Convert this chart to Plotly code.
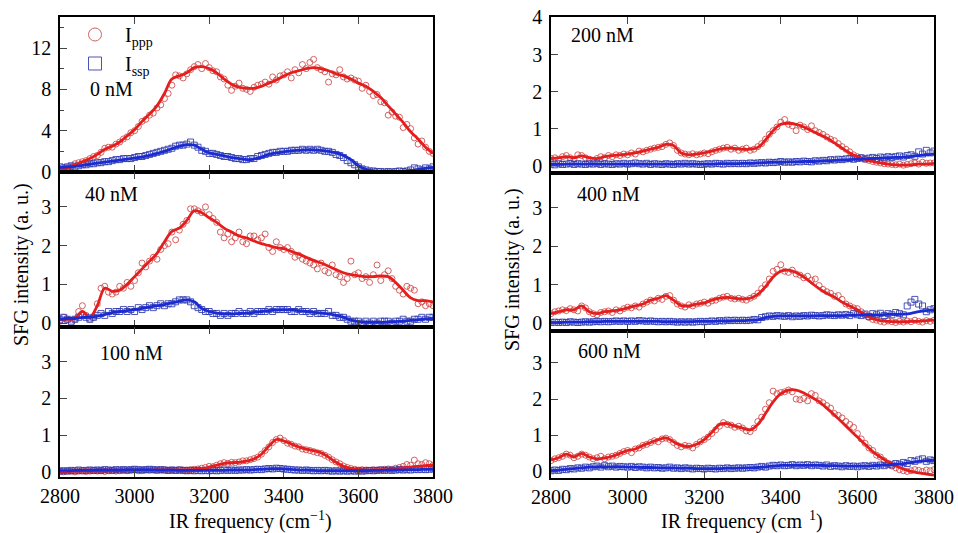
#### Load Libraries ####
import plotly.graph_objects as go

#### Data ####
# measured points every 10 cm-1, fitted curves every 20 cm-1
freq_data = list(range(2800, 3801, 10))
freq_fit = list(range(2800, 3801, 20))

# 0 nM
ppp_0 = [0.1, 0.3, 0.4, 0.5, 0.8, 0.9, 1.0, 1.1, 1.3, 1.5,
         1.6, 1.9, 2.3, 2.4, 2.4, 2.7, 2.9, 3.2, 3.4, 3.8,
         4.0, 4.4, 4.9, 5.1, 5.5, 5.7, 6.2, 6.5, 7.1, 7.6,
         8.4, 9.4, 9.3, 9.1, 9.5, 9.9, 10.2, 10.4, 10.0, 10.5,
         10.1, 9.8, 9.7, 9.2, 9.0, 8.4, 7.9, 8.3, 8.6, 8.1,
         8.0, 7.8, 8.2, 8.4, 8.5, 8.7, 8.5, 9.2, 8.9, 9.3,
         9.4, 9.7, 9.1, 9.9, 9.6, 10.4, 10.0, 10.6, 10.9, 10.1,
         9.9, 9.7, 8.7, 9.5, 9.4, 9.9, 9.2, 9.0, 9.1, 8.9,
         8.8, 8.1, 8.4, 7.8, 7.4, 7.5, 6.8, 6.7, 5.5, 5.8,
         5.4, 5.3, 4.3, 4.6, 4.2, 3.3, 2.7, 3.0, 2.4, 2.0,
         1.8]
ssp_0 = [0.5, 0.4, 0.5, 0.6, 0.5, 0.6, 0.7, 0.7, 0.8, 0.8,
         0.9, 0.9, 1.0, 1.0, 1.1, 1.2, 1.2, 1.3, 1.3, 1.3,
         1.4, 1.5, 1.5, 1.6, 1.7, 1.8, 1.9, 2.0, 2.1, 2.2,
         2.3, 2.5, 2.6, 2.6, 2.7, 2.9, 2.6, 2.4, 2.1, 2.0,
         1.8, 1.8, 1.7, 1.6, 1.5, 1.5, 1.4, 1.3, 1.3, 1.2,
         1.2, 1.3, 1.3, 1.5, 1.6, 1.7, 1.8, 1.9, 1.9, 2.0,
         2.0, 2.0, 2.1, 2.1, 2.1, 2.2, 2.1, 2.2, 2.1, 2.2,
         2.1, 2.0, 2.0, 1.9, 1.7, 1.6, 1.4, 1.1, 0.9, 0.7,
         0.5, 0.3, 0.2, 0.1, 0.1, 0.05, 0.05, 0.0, 0.05, 0.0,
         0.05, 0.1, 0.05, 0.1, 0.2, 0.4, 0.3, 0.2, 0.4, 0.3,
         0.5]
ppp_fit_0 = [0.2, 0.4, 0.7, 1.0, 1.3, 1.7, 2.2, 2.5, 2.9, 3.5,
             4.1, 4.9, 5.6, 6.4, 7.6, 9.0, 9.3, 9.6, 10.1, 10.2,
             10.0, 9.6, 9.0, 8.5, 8.2, 8.1, 8.1, 8.3, 8.6, 8.9,
             9.3, 9.6, 9.8, 10.0, 10.1, 10.0, 9.8, 9.5, 9.3, 9.0,
             8.6, 8.3, 7.8, 7.2, 6.4, 5.6, 4.8, 3.9, 3.2, 2.4,
             1.8]
ssp_fit_0 = [0.45, 0.5, 0.55, 0.65, 0.75, 0.85, 0.95, 1.05, 1.15, 1.25,
             1.35, 1.45, 1.6, 1.8, 2.0, 2.25, 2.5, 2.65, 2.6, 2.2,
             1.85, 1.7, 1.55, 1.4, 1.3, 1.2, 1.25, 1.45, 1.7, 1.85,
             1.95, 2.05, 2.1, 2.15, 2.15, 2.1, 2.0, 1.85, 1.6, 1.2,
             0.6, 0.25, 0.1, 0.05, 0.05, 0.05, 0.08, 0.15, 0.25, 0.35,
             0.45]

# 40 nM
ppp_40 = [0.05, 0.15, 0.1, 0.0, 0.1, 0.3, 0.45, 0.2, 0.1, 0.15,
          0.5, 0.9, 0.95, 0.8, 0.75, 0.8, 0.95, 0.9, 1.05, 0.95,
          1.1, 1.3, 1.55, 1.45, 1.6, 1.7, 1.65, 1.9, 2.0, 2.05,
          2.35, 2.15, 2.4, 2.55, 2.65, 2.95, 2.95, 2.9, 2.85, 3.0,
          2.8, 2.7, 2.6, 2.35, 2.2, 2.3, 2.1, 2.2, 2.35, 2.1,
          2.05, 2.25, 2.25, 2.15, 2.2, 2.3, 1.95, 1.85, 2.1, 1.95,
          1.9, 1.95, 1.85, 1.7, 1.75, 1.65, 1.6, 1.55, 1.5, 1.4,
          1.55, 1.35, 1.3, 1.5, 1.25, 1.2, 1.05, 1.15, 1.6, 1.25,
          1.3, 1.15, 1.2, 1.05, 1.25, 1.5, 1.1, 1.25, 1.35, 1.15,
          0.95, 0.85, 0.75, 0.95, 0.9, 0.85, 0.5, 0.55, 0.45, 0.5,
          0.45]
ssp_40 = [0.1, 0.15, 0.1, 0.05, 0.1, 0.15, 0.2, 0.15, 0.1, 0.15,
          0.2, 0.25, 0.2, 0.3, 0.25, 0.3, 0.3, 0.35, 0.3, 0.35,
          0.3, 0.4, 0.35, 0.4, 0.45, 0.4, 0.45, 0.5, 0.45, 0.5,
          0.5, 0.55, 0.6, 0.6, 0.6, 0.55, 0.45, 0.4, 0.35, 0.3,
          0.3, 0.25, 0.25, 0.2, 0.25, 0.2, 0.25, 0.25, 0.3, 0.25,
          0.25, 0.3, 0.25, 0.3, 0.3, 0.3, 0.35, 0.3, 0.35, 0.35,
          0.35, 0.35, 0.3, 0.3, 0.35, 0.3, 0.3, 0.25, 0.3, 0.25,
          0.25, 0.25, 0.3, 0.2, 0.2, 0.15, 0.15, 0.1, 0.05, 0.05,
          0.05, 0.0, 0.05, 0.0, 0.05, 0.0, 0.05, 0.05, 0.05, 0.0,
          0.05, 0.05, 0.1, 0.05, 0.05, 0.1, 0.1, 0.15, 0.1, 0.15,
          0.15]
ppp_fit_40 = [0.1, 0.1, 0.12, 0.3, 0.15, 0.45, 0.9, 0.82, 0.85, 1.0,
              1.2, 1.4, 1.6, 1.8, 2.1, 2.37, 2.45, 2.65, 2.9, 2.85,
              2.72, 2.6, 2.45, 2.35, 2.25, 2.2, 2.12, 2.05, 2.0, 1.95,
              1.92, 1.85, 1.78, 1.7, 1.62, 1.55, 1.47, 1.38, 1.3, 1.25,
              1.22, 1.2, 1.2, 1.22, 1.2, 1.05, 0.85, 0.65, 0.58, 0.58,
              0.55]
ssp_fit_40 = [0.1, 0.12, 0.12, 0.15, 0.15, 0.18, 0.22, 0.27, 0.3, 0.32,
              0.35, 0.38, 0.42, 0.45, 0.48, 0.52, 0.57, 0.6, 0.55, 0.38,
              0.3, 0.26, 0.24, 0.24, 0.25, 0.26, 0.28, 0.3, 0.32, 0.34,
              0.35, 0.34, 0.32, 0.3, 0.28, 0.26, 0.24, 0.2, 0.15, 0.08,
              0.04, 0.02, 0.02, 0.02, 0.03, 0.04, 0.05, 0.07, 0.09, 0.11,
              0.12]

# 100 nM
ppp_100 = [0.02, 0.0, 0.03, 0.02, 0.0, 0.02, 0.03, 0.01, 0.02, 0.03,
           0.02, 0.03, 0.01, 0.03, 0.04, 0.02, 0.03, 0.04, 0.03, 0.04,
           0.05, 0.03, 0.04, 0.05, 0.04, 0.05, 0.04, 0.05, 0.06, 0.04,
           0.05, 0.04, 0.06, 0.05, 0.05, 0.06, 0.07, 0.08, 0.1, 0.12,
           0.15, 0.14, 0.18, 0.22, 0.25, 0.23, 0.26, 0.25, 0.27, 0.3,
           0.3, 0.33, 0.36, 0.4, 0.48, 0.58, 0.68, 0.8, 0.88, 0.92,
           0.85, 0.78, 0.75, 0.7, 0.68, 0.62, 0.6, 0.58, 0.55, 0.52,
           0.5, 0.45, 0.4, 0.33, 0.27, 0.22, 0.16, 0.12, 0.09, 0.07,
           0.05, 0.06, 0.05, 0.04, 0.06, 0.05, 0.06, 0.07, 0.08, 0.07,
           0.1, 0.12, 0.15, 0.2, 0.18, 0.32, 0.22, 0.2, 0.25, 0.22,
           0.18]
ssp_100 = [0.02, 0.03, 0.02, 0.04, 0.03, 0.05, 0.03, 0.04, 0.05, 0.04,
           0.05, 0.04, 0.06, 0.05, 0.04, 0.06, 0.05, 0.06, 0.05, 0.06,
           0.07, 0.06, 0.05, 0.06, 0.07, 0.06, 0.05, 0.06, 0.05, 0.04,
           0.05, 0.04, 0.05, 0.04, 0.03, 0.04, 0.03, 0.04, 0.03, 0.04,
           0.03, 0.04, 0.03, 0.04, 0.05, 0.04, 0.05, 0.04, 0.05, 0.05,
           0.06, 0.05, 0.06, 0.07, 0.06, 0.08, 0.09, 0.08, 0.1, 0.09,
           0.08, 0.07, 0.06, 0.05, 0.05, 0.04, 0.05, 0.04, 0.03, 0.04,
           0.03, 0.04, 0.03, 0.02, 0.03, 0.02, 0.03, 0.02, 0.03, 0.02,
           0.03, 0.02, 0.03, 0.04, 0.03, 0.04, 0.05, 0.04, 0.05, 0.04,
           0.05, 0.06, 0.05, 0.06, 0.05, 0.07, 0.06, 0.07, 0.06, 0.07,
           0.08]
ppp_fit_100 = [0.01, 0.01, 0.02, 0.02, 0.02, 0.02, 0.02, 0.03, 0.03, 0.03,
               0.04, 0.04, 0.04, 0.05, 0.05, 0.05, 0.05, 0.05, 0.06, 0.08,
               0.13, 0.18, 0.23, 0.25, 0.26, 0.29, 0.35, 0.48, 0.7, 0.88,
               0.84, 0.76, 0.68, 0.62, 0.58, 0.52, 0.4, 0.26, 0.15, 0.09,
               0.06, 0.05, 0.05, 0.06, 0.07, 0.09, 0.11, 0.13, 0.15, 0.17,
               0.18]
ssp_fit_100 = [0.03, 0.03, 0.04, 0.04, 0.04, 0.05, 0.05, 0.05, 0.05, 0.06,
               0.06, 0.06, 0.06, 0.05, 0.05, 0.05, 0.04, 0.04, 0.04, 0.04,
               0.04, 0.04, 0.04, 0.05, 0.05, 0.05, 0.06, 0.07, 0.08, 0.09,
               0.08, 0.07, 0.05, 0.05, 0.04, 0.03, 0.03, 0.03, 0.03, 0.03,
               0.03, 0.03, 0.04, 0.04, 0.05, 0.05, 0.05, 0.06, 0.06, 0.07,
               0.07]

# 200 nM
ppp_200 = [0.2, 0.22, 0.18, 0.25, 0.28, 0.22, 0.18, 0.3, 0.28, 0.22,
           0.18, 0.15, 0.2, 0.25, 0.22, 0.28, 0.25, 0.3, 0.28, 0.32,
           0.3, 0.35, 0.32, 0.4, 0.38, 0.42, 0.45, 0.48, 0.5, 0.52,
           0.58, 0.62, 0.55, 0.42, 0.35, 0.32, 0.3, 0.33, 0.3, 0.32,
           0.35, 0.33, 0.38, 0.42, 0.45, 0.48, 0.5, 0.45, 0.48, 0.42,
           0.45, 0.48, 0.42, 0.45, 0.52, 0.6, 0.72, 0.85, 0.95, 1.05,
           1.18, 1.25, 1.12, 1.08, 0.95, 1.1, 1.05, 0.98, 1.08, 0.95,
           0.9, 0.85, 0.78, 0.72, 0.68, 0.6, 0.52, 0.45, 0.38, 0.3,
           0.25, 0.22, 0.18, 0.15, 0.12, 0.1, 0.08, 0.06, 0.05, 0.04,
           0.03, 0.05, 0.02, 0.04, 0.06, 0.08, 0.05, 0.1, 0.07, 0.08,
           0.08]
ssp_200 = [0.05, 0.03, 0.06, 0.04, 0.05, 0.07, 0.04, 0.06, 0.05, 0.04,
           0.06, 0.05, 0.07, 0.04, 0.06, 0.05, 0.04, 0.06, 0.05, 0.07,
           0.05, 0.06, 0.08, 0.06, 0.05, 0.07, 0.04, 0.06, 0.05, 0.04,
           0.06, 0.05, 0.04, 0.06, 0.05, 0.07, 0.05, 0.06, 0.05, 0.04,
           0.05, 0.06, 0.05, 0.07, 0.06, 0.05, 0.07, 0.06, 0.07, 0.06,
           0.07, 0.06, 0.08, 0.07, 0.08, 0.09, 0.08, 0.1, 0.09, 0.1,
           0.12, 0.1, 0.11, 0.1, 0.12, 0.11, 0.13, 0.12, 0.11, 0.14,
           0.13, 0.15, 0.14, 0.17, 0.16, 0.18, 0.17, 0.19, 0.2, 0.18,
           0.2, 0.22, 0.19, 0.21, 0.23, 0.2, 0.24, 0.22, 0.25, 0.23,
           0.25, 0.27, 0.24, 0.28, 0.3, 0.26, 0.38, 0.32, 0.42, 0.35,
           0.4]
ppp_fit_200 = [0.2, 0.22, 0.25, 0.22, 0.27, 0.22, 0.2, 0.25, 0.28, 0.3,
               0.32, 0.35, 0.4, 0.45, 0.5, 0.58, 0.55, 0.35, 0.3, 0.32,
               0.35, 0.4, 0.45, 0.48, 0.47, 0.45, 0.45, 0.5, 0.7, 0.95,
               1.12, 1.15, 1.12, 1.05, 0.95, 0.85, 0.75, 0.62, 0.48, 0.35,
               0.25, 0.18, 0.12, 0.08, 0.05, 0.03, 0.02, 0.03, 0.05, 0.05,
               0.07]
ssp_fit_200 = [0.04, 0.04, 0.05, 0.05, 0.05, 0.05, 0.05, 0.05, 0.05, 0.05,
               0.05, 0.05, 0.05, 0.05, 0.05, 0.05, 0.05, 0.05, 0.05, 0.05,
               0.05, 0.05, 0.06, 0.06, 0.06, 0.07, 0.07, 0.08, 0.09, 0.1,
               0.1, 0.11, 0.11, 0.12, 0.12, 0.13, 0.14, 0.15, 0.16, 0.17,
               0.18, 0.19, 0.2, 0.21, 0.22, 0.23, 0.24, 0.26, 0.28, 0.3,
               0.32]

# 400 nM
ppp_400 = [0.25, 0.3, 0.32, 0.35, 0.33, 0.38, 0.35, 0.32, 0.45, 0.4,
           0.3, 0.25, 0.22, 0.28, 0.3, 0.32, 0.28, 0.35, 0.32, 0.38,
           0.42, 0.4, 0.45, 0.42, 0.5, 0.55, 0.6, 0.58, 0.65, 0.62,
           0.7, 0.72, 0.6, 0.5, 0.45, 0.42, 0.48, 0.45, 0.5, 0.52,
           0.55, 0.52, 0.58, 0.6, 0.65, 0.68, 0.7, 0.65, 0.63, 0.65,
           0.62, 0.6, 0.65, 0.7, 0.78, 0.9, 1.0, 1.15, 1.35, 1.4,
           1.52, 1.35, 1.32, 1.38, 1.28, 1.25, 1.18, 1.22, 1.12, 1.15,
           0.98, 0.88, 0.82, 0.78, 0.7, 0.72, 0.62, 0.5, 0.45, 0.4,
           0.38, 0.3, 0.22, 0.15, 0.1, 0.08, 0.05, 0.03, 0.06, 0.04,
           0.02, 0.05, 0.03, 0.06, 0.04, 0.08, 0.05, 0.03, 0.07, 0.05,
           0.08]
ssp_400 = [0.02, 0.03, 0.02, 0.03, 0.02, 0.04, 0.03, 0.02, 0.03, 0.04,
           0.03, 0.04, 0.05, 0.04, 0.05, 0.04, 0.05, 0.06, 0.05, 0.06,
           0.05, 0.06, 0.05, 0.07, 0.06, 0.05, 0.06, 0.05, 0.04, 0.05,
           0.04, 0.05, 0.04, 0.03, 0.04, 0.03, 0.04, 0.03, 0.04, 0.05,
           0.04, 0.05, 0.06, 0.05, 0.07, 0.06, 0.08, 0.07, 0.08, 0.07,
           0.08, 0.07, 0.08, 0.1, 0.09, 0.15, 0.17, 0.19, 0.18, 0.2,
           0.19, 0.18, 0.2, 0.17, 0.19, 0.18, 0.2, 0.19, 0.21, 0.2,
           0.19, 0.2, 0.22, 0.21, 0.2, 0.22, 0.21, 0.23, 0.2, 0.25,
           0.22, 0.2, 0.24, 0.18, 0.25, 0.22, 0.26, 0.2, 0.25, 0.22,
           0.28, 0.25, 0.22, 0.45, 0.55, 0.62, 0.5, 0.45, 0.3, 0.35,
           0.38]
ppp_fit_400 = [0.25, 0.3, 0.35, 0.35, 0.45, 0.3, 0.25, 0.3, 0.32, 0.35,
               0.4, 0.45, 0.5, 0.6, 0.65, 0.72, 0.6, 0.46, 0.45, 0.5,
               0.53, 0.6, 0.65, 0.67, 0.65, 0.63, 0.65, 0.75, 0.95, 1.2,
               1.35, 1.38, 1.32, 1.2, 1.05, 0.9, 0.78, 0.68, 0.55, 0.45,
               0.35, 0.22, 0.12, 0.07, 0.05, 0.04, 0.04, 0.05, 0.05, 0.07,
               0.08]
ssp_fit_400 = [0.02, 0.02, 0.03, 0.03, 0.03, 0.04, 0.04, 0.05, 0.05, 0.05,
               0.05, 0.05, 0.05, 0.05, 0.05, 0.04, 0.04, 0.04, 0.04, 0.05,
               0.05, 0.05, 0.06, 0.06, 0.07, 0.07, 0.08, 0.09, 0.15, 0.18,
               0.19, 0.19, 0.19, 0.19, 0.19, 0.2, 0.2, 0.2, 0.2, 0.21,
               0.21, 0.22, 0.22, 0.22, 0.23, 0.23, 0.24, 0.26, 0.3, 0.33,
               0.35]

# 600 nM
ppp_600 = [0.3, 0.35, 0.38, 0.42, 0.48, 0.45, 0.38, 0.42, 0.48, 0.45,
           0.4, 0.35, 0.38, 0.42, 0.35, 0.4, 0.42, 0.45, 0.5, 0.55,
           0.58, 0.52, 0.62, 0.65, 0.72, 0.75, 0.8, 0.85, 0.82, 0.9,
           0.92, 0.88, 0.8, 0.72, 0.68, 0.72, 0.7, 0.65, 0.75, 0.82,
           0.88, 0.95, 1.05, 1.15, 1.25, 1.35, 1.3, 1.28, 1.22, 1.25,
           1.2, 1.12, 1.1, 1.2, 1.38, 1.5, 1.72, 1.9, 2.22, 2.15,
           2.18, 2.2, 2.25, 2.2, 2.0, 1.98, 2.02, 1.95, 2.15, 2.1,
           1.95, 1.9, 1.82, 1.75, 1.6, 1.55, 1.48, 1.38, 1.3, 1.22,
           1.05, 0.9, 0.78, 0.65, 0.58, 0.45, 0.4, 0.3, 0.22, 0.15,
           0.1, 0.05, 0.02, 0.0, 0.02, 0.05, 0.03, 0.0, 0.04, 0.02,
           0.05]
ssp_600 = [0.02, 0.04, 0.03, 0.06, 0.05, 0.08, 0.07, 0.1, 0.09, 0.12,
           0.1, 0.13, 0.15, 0.12, 0.16, 0.13, 0.15, 0.12, 0.14, 0.13,
           0.12, 0.14, 0.11, 0.13, 0.12, 0.1, 0.12, 0.1, 0.11, 0.09,
           0.1, 0.12, 0.09, 0.1, 0.08, 0.1, 0.09, 0.07, 0.09, 0.08,
           0.07, 0.09, 0.08, 0.07, 0.09, 0.08, 0.1, 0.08, 0.09, 0.1,
           0.09, 0.1, 0.11, 0.1, 0.12, 0.14, 0.12, 0.15, 0.17, 0.16,
           0.18, 0.16, 0.17, 0.19, 0.16, 0.18, 0.17, 0.19, 0.16, 0.18,
           0.17, 0.15, 0.18, 0.14, 0.16, 0.15, 0.13, 0.16, 0.14, 0.15,
           0.13, 0.15, 0.16, 0.14, 0.17, 0.15, 0.18, 0.16, 0.2, 0.18,
           0.22, 0.2, 0.25, 0.22, 0.3, 0.28, 0.32, 0.35, 0.28, 0.32,
           0.3]
ppp_fit_600 = [0.32, 0.38, 0.48, 0.4, 0.5, 0.4, 0.35, 0.37, 0.42, 0.5,
               0.58, 0.62, 0.72, 0.8, 0.88, 0.93, 0.82, 0.72, 0.69, 0.75,
               0.88, 1.08, 1.3, 1.32, 1.25, 1.2, 1.15, 1.3, 1.6, 1.92,
               2.15, 2.25, 2.25, 2.17, 2.05, 1.93, 1.75, 1.56, 1.36, 1.15,
               0.95, 0.75, 0.55, 0.4, 0.27, 0.16, 0.07, 0.0, -0.04, -0.07,
               -0.1]
ssp_fit_600 = [0.02, 0.04, 0.06, 0.08, 0.1, 0.12, 0.13, 0.13, 0.13, 0.13,
               0.12, 0.12, 0.11, 0.11, 0.1, 0.1, 0.1, 0.09, 0.09, 0.08,
               0.08, 0.08, 0.08, 0.09, 0.09, 0.1, 0.1, 0.11, 0.13, 0.15,
               0.17, 0.17, 0.17, 0.17, 0.17, 0.17, 0.16, 0.16, 0.15, 0.15,
               0.15, 0.15, 0.16, 0.17, 0.18, 0.2, 0.22, 0.25, 0.28, 0.3,
               0.31]

labels = ["0 nM", "40 nM", "100 nM", "200 nM", "400 nM", "600 nM"]
ppp_sets = [ppp_0, ppp_40, ppp_100, ppp_200, ppp_400, ppp_600]
ssp_sets = [ssp_0, ssp_40, ssp_100, ssp_200, ssp_400, ssp_600]
ppp_fits = [ppp_fit_0, ppp_fit_40, ppp_fit_100, ppp_fit_200, ppp_fit_400, ppp_fit_600]
ssp_fits = [ssp_fit_0, ssp_fit_40, ssp_fit_100, ssp_fit_200, ssp_fit_400, ssp_fit_600]

x_ticks = [2800, 3000, 3200, 3400, 3600, 3800]

#### Layout settings (pixel geometry of the figure) ####
W, H = 958, 533
FONT = "Liberation Serif, Times New Roman, Times, serif"
RED_PT = "rgba(205,70,70,0.85)"
BLUE_PT = "rgba(45,55,170,0.85)"
RED_LN = "#e41d1d"
BLUE_LN = "#1a2bd4"

# (left, right, top, bottom) in pixels for each panel
boxes = [(60, 433, 17, 172), (60, 433, 172, 327), (60, 433, 327, 477),
         (551, 934, 17, 173), (551, 934, 173, 331), (551, 934, 331, 478)]
y_ranges = [[0, 15], [-0.1, 3.9], [-0.14, 3.94], [-0.19, 4.01], [-0.2, 3.9], [-0.18, 3.88]]
y_ticks = [[0, 4, 8, 12], [0, 1, 2, 3], [0, 1, 2, 3], [0, 1, 2, 3, 4], [0, 1, 2, 3], [0, 1, 2, 3]]
# label position inside each panel (fraction of panel)
label_pos = [(0.075, 0.535), (0.062, 0.858), (0.102, 0.827), (0.047, 0.885), (0.063, 0.867), (0.065, 0.864)]


def px_x(p):
    return p / W


def px_y(p):
    return 1 - p / H


#### Build Figure ####
fig = go.Figure()
layout = dict(width=W, height=H, margin=dict(l=0, r=0, t=0, b=0, pad=0, autoexpand=False),
              paper_bgcolor="white", plot_bgcolor="white",
              font=dict(family=FONT, size=20, color="black"))
annotations = []

for i in range(6):
    n = "" if i == 0 else str(i + 1)
    xa, ya = "x" + n, "y" + n
    left, right, top, bottom = boxes[i]
    bottom_row = i in (2, 5)

    fig.add_trace(go.Scatter(x=freq_data, y=ppp_sets[i], mode="markers", xaxis=xa, yaxis=ya,
                             marker=dict(symbol="circle-open", size=6, color=RED_PT, line=dict(width=1)),
                             showlegend=False))
    fig.add_trace(go.Scatter(x=freq_data, y=ssp_sets[i], mode="markers", xaxis=xa, yaxis=ya,
                             marker=dict(symbol="square-open", size=6, color=BLUE_PT, line=dict(width=1)),
                             showlegend=False))
    fig.add_trace(go.Scatter(x=freq_fit, y=ppp_fits[i], mode="lines", xaxis=xa, yaxis=ya,
                             line=dict(color=RED_LN, width=2.8, shape="spline", smoothing=1.0),
                             showlegend=False))
    fig.add_trace(go.Scatter(x=freq_fit, y=ssp_fits[i], mode="lines", xaxis=xa, yaxis=ya,
                             line=dict(color=BLUE_LN, width=2.8, shape="spline", smoothing=1.0),
                             showlegend=False))

    layout["xaxis" + n] = dict(domain=[px_x(left), px_x(right)], anchor=ya, range=[2800, 3800],
                               tickvals=x_ticks, showticklabels=bottom_row, ticks="inside",
                               ticklen=7, tickwidth=1.3, showline=True, linewidth=2.2,
                               linecolor="black", mirror="ticks", showgrid=False, zeroline=False,
                               automargin=False, tickfont=dict(family=FONT, size=20))
    yax = dict(domain=[px_y(bottom), px_y(top)], anchor=xa, range=y_ranges[i],
               tickvals=y_ticks[i], ticks="inside", ticklen=7, tickwidth=1.3,
               showline=True, linewidth=1.5, linecolor="black", mirror=True,
               showgrid=False, zeroline=False, automargin=False, ticklabelstandoff=3,
               tickfont=dict(family=FONT, size=20))
    if i == 0:
        yax["minor"] = dict(tickvals=[2, 6, 10, 14], ticks="inside", ticklen=4, tickwidth=1.2)
    layout["yaxis" + n] = yax

    annotations.append(dict(text=labels[i], xref=xa + " domain", yref=ya + " domain",
                            x=label_pos[i][0], y=label_pos[i][1], xanchor="left", yanchor="middle",
                            showarrow=False, font=dict(family=FONT, size=20)))

# legend entries
fig.add_trace(go.Scatter(x=[None], y=[None], mode="markers", name="\u00a0\u00a0I<sub>ppp</sub>",
                         marker=dict(symbol="circle-open", size=13, color=RED_PT, line=dict(width=1))))
fig.add_trace(go.Scatter(x=[None], y=[None], mode="markers", name="\u00a0\u00a0I<sub>ssp</sub>",
                         marker=dict(symbol="square-open", size=13, color=BLUE_PT, line=dict(width=1))))

# axis titles
title_font = dict(family=FONT, size=20)
annotations.append(dict(text="IR frequency (cm<sup>\u22121</sup>)", xref="paper", yref="paper",
                        x=px_x(250), y=px_y(520), showarrow=False, xanchor="center", yanchor="middle",
                        font=title_font))
annotations.append(dict(text="IR frequency (cm<sup>\u00a0\u00a01</sup>)", xref="paper", yref="paper",
                        x=px_x(742), y=px_y(520), showarrow=False, xanchor="center", yanchor="middle",
                        font=title_font))
annotations.append(dict(text="SFG intensity (a. u.)", xref="paper", yref="paper", textangle=-90,
                        x=px_x(21), y=px_y(265), showarrow=False, xanchor="center", yanchor="middle",
                        font=title_font))
annotations.append(dict(text="SFG intensity (a. u.)", xref="paper", yref="paper", textangle=-90,
                        x=px_x(512), y=px_y(269), showarrow=False, xanchor="center", yanchor="middle",
                        font=title_font))

layout["annotations"] = annotations
layout["legend"] = dict(x=px_x(75), y=px_y(15), xanchor="left", yanchor="top",
                        bgcolor="rgba(0,0,0,0)", font=dict(family=FONT, size=20), itemwidth=30,
                        tracegroupgap=0)
layout["showlegend"] = True
fig.update_layout(**layout)

# the page's default 8px body margin would push the figure off the window
fig.write_html("out.html", config={"displayModeBar": False},
               post_script="document.body.style.margin='0';")
